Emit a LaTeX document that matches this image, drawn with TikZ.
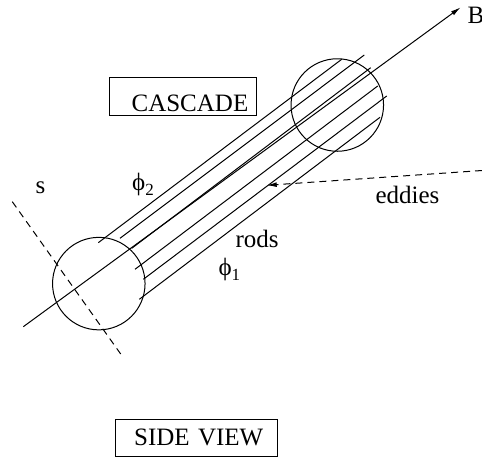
\documentclass[tikz,border=0pt]{standalone}
\usepackage{amsmath}
\usepackage{fontspec}
\setmainfont{Liberation Serif}
\usepackage{xcolor}
\usetikzlibrary{arrows.meta}

\begin{document}
\begin{tikzpicture}[x=0.5pt, y=-0.5pt, line width=0.5pt,
  every node/.style={font=\fontsize{12.5}{15}\selectfont, inner sep=0pt},
  box/.style={draw, inner ysep=0pt, align=right},
  ball/.style={draw, circle, minimum size=46.25pt},
  dashline/.style={dash pattern=on 3.5pt off 2.5pt},
  tip/.style={-{Latex[length=5pt, width=2.4pt]}}]
  \useasboundingbox (0,0) rectangle (482,457);
  \node[ball] (near) at (98.8,283.6) {};
  \node[ball] (far) at (337.3,105) {};
  \foreach \ax/\ay/\bx/\by in {98.3/242.7/341.7/59.3, 120/238.3/364.3/55,
      131.7/248.3/370.7/67.7, 135/269.3/377.7/86, 143.3/279.3/386.7/96,
      139.3/299.3/380/117.3}
    \draw (\ax,\ay) -- (\bx,\by);
  \coordinate (tail) at (23.3,326.7);
  \coordinate (head) at (460.7,7.3);
  \draw[tip] (tail) -- (head);
  \node[anchor=base west] (bfield) at (467,23) {B};
  \coordinate (stop) at (12.3,201.7);
  \coordinate (sbot) at (120.7,354);
  \draw[dashline] (stop) -- (sbot);
  \node[anchor=base west] (slabel) at (35,193) {s};
  \coordinate (eddyin) at (482,170.5);
  \coordinate (eddyhit) at (266.7,185.3);
  \draw[dashline, tip] (eddyin) -- (eddyhit);
  \node[anchor=base west] (eddies) at (375,203) {eddies};
  \node[anchor=base west] (rods) at (235,247) {rods};
  \node[anchor=base west] (phitwo) at (131.7,190.3) {ϕ\raisebox{-2.7pt}{\fontsize{8.5}{9}\selectfont 2}};
  \node[anchor=base west] (phione) at (218,275.3) {ϕ\raisebox{-2.7pt}{\fontsize{8.5}{9}\selectfont 1}};
  \node[box, inner xsep=3.85pt, text width=65.6pt, text height=16.65pt, text depth=2.35pt] (cascade) at (182.7,96.7) {CASCADE};
  \node[box, inner xsep=7pt, text width=67.15pt, text height=12.85pt, text depth=5.85pt] (sideview) at (196.2,438) {SIDE VIEW};
\end{tikzpicture}
\end{document}
